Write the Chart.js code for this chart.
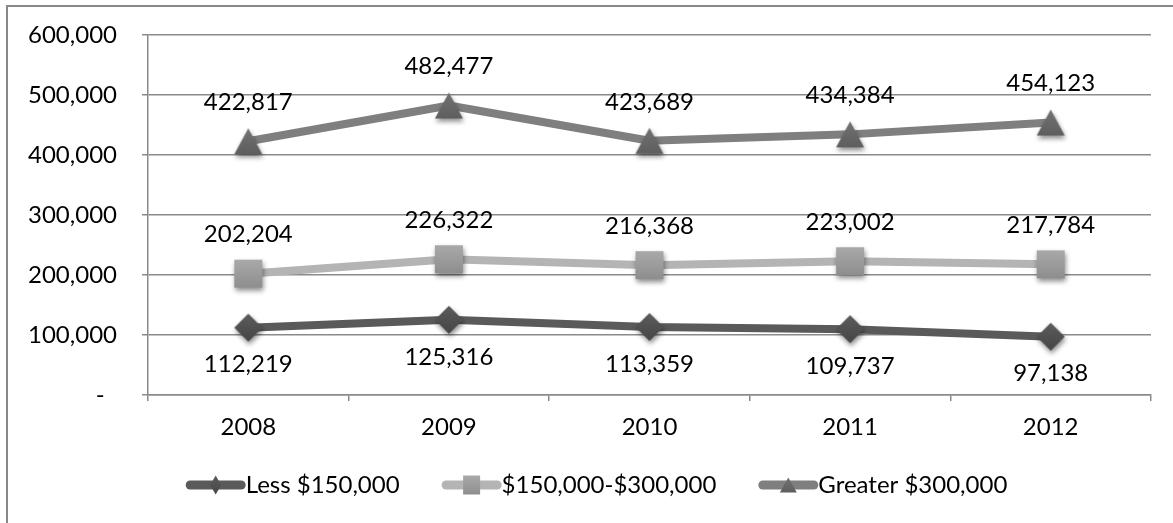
<!DOCTYPE html>
<html>
<head>
<meta charset="utf-8">
<script src="https://cdn.jsdelivr.net/npm/chart.js@4/dist/chart.umd.min.js"></script>
<style>
  html, body { margin: 0; padding: 0; background: #ffffff; }
  #wrap { position: relative; width: 1173px; height: 523px; }
</style>
</head>
<body>
<div id="wrap"><canvas id="chart" width="1173" height="523"></canvas></div>
<script>
// ---- data ----
const years = ['2008', '2009', '2010', '2011', '2012'];
const lessThan150k = [112219, 125316, 113359, 109737, 97138];
const from150kTo300k = [202204, 226322, 216368, 223002, 217784];
const greaterThan300k = [422817, 482477, 423689, 434384, 454123];
const seriesNames = ['Less $150,000', '$150,000-$300,000', 'Greater $300,000'];
const yAxisMin = 0;
const yAxisMax = 600000;
const yAxisStep = 100000;

// ---- styling ----
const FONT = 'Lato, "Open Sans", sans-serif';
const FONT_SIZE = 24;
const GRID = '#8a8a8a';

const styles = [
  { line: '#5a5a5a', shape: 'diamond', top: '#5c5c5c', bottom: '#454545', w: 28, h: 28, lw: 11, lh: 19, labelOffset: 37 },
  { line: '#b4b4b4', shape: 'square',  top: '#a9a9a9', bottom: '#8e8e8e', w: 28, h: 28, lw: 17, lh: 19, labelOffset: -39 },
  { line: '#7f7f7f', shape: 'triangle', top: '#727272', bottom: '#5e5e5e', w: 28, h: 26, lw: 17, lh: 15, labelOffset: -39 }
];

function shapePath(g, shape, cx, cy, w, h) {
  g.beginPath();
  if (shape === 'diamond') {
    g.moveTo(cx, cy - h / 2);
    g.lineTo(cx + w / 2, cy);
    g.lineTo(cx, cy + h / 2);
    g.lineTo(cx - w / 2, cy);
  } else if (shape === 'square') {
    g.rect(cx - w / 2, cy - h / 2, w, h);
  } else {
    g.moveTo(cx, cy - h / 2);
    g.lineTo(cx + w / 2, cy + h / 2);
    g.lineTo(cx - w / 2, cy + h / 2);
  }
  g.closePath();
}

function fillShape(g, st, cx, cy, w, h, withShadow) {
  shapePath(g, st.shape, cx, cy, w, h);
  const grad = g.createLinearGradient(0, cy - h / 2, 0, cy + h / 2);
  grad.addColorStop(0, st.top);
  grad.addColorStop(1, st.bottom);
  g.save();
  if (withShadow) {
    g.shadowColor = 'rgba(0,0,0,0.45)';
    g.shadowBlur = 5;
    g.shadowOffsetX = 1;
    g.shadowOffsetY = 3;
  }
  g.fillStyle = grad;
  g.fill();
  g.restore();
}

// marker bitmaps used as Chart.js point styles
function markerCanvas(st) {
  const pad = 10;
  const c = document.createElement('canvas');
  c.width = st.w + pad * 2;
  c.height = st.h + pad * 2;
  const g = c.getContext('2d');
  fillShape(g, st, c.width / 2, c.height / 2, st.w, st.h, true);
  return c;
}

const seriesValues = [lessThan150k, from150kTo300k, greaterThan300k];

const datasets = seriesValues.map((vals, i) => ({
  label: seriesNames[i],
  data: vals,
  borderColor: styles[i].line,
  backgroundColor: styles[i].line,
  borderWidth: 8,
  borderCapStyle: 'round',
  borderJoinStyle: 'round',
  tension: 0,
  pointStyle: markerCanvas(styles[i]),
  pointRadius: 14,
  pointHoverRadius: 14,
  clip: false
}));

// outer frame of the chart box
const framePlugin = {
  id: 'frame',
  beforeDraw(chart) {
    const ctx = chart.ctx;
    ctx.save();
    ctx.strokeStyle = '#888888';
    ctx.lineWidth = 2;
    ctx.beginPath();
    ctx.moveTo(7, chart.height);
    ctx.lineTo(7, 6);
    ctx.lineTo(chart.width, 6);
    ctx.stroke();
    ctx.restore();
  }
};

// value labels next to each point
const valueLabelPlugin = {
  id: 'valueLabels',
  afterDatasetsDraw(chart) {
    const ctx = chart.ctx;
    ctx.save();
    ctx.font = FONT_SIZE + 'px ' + FONT;
    ctx.fillStyle = '#000000';
    ctx.textAlign = 'center';
    ctx.textBaseline = 'middle';
    chart.data.datasets.forEach((ds, i) => {
      const meta = chart.getDatasetMeta(i);
      meta.data.forEach((pt, j) => {
        ctx.fillText(ds.data[j].toLocaleString('en-US'), pt.x, pt.y + styles[i].labelOffset);
      });
    });
    ctx.restore();
  }
};

// legend row: line sample with marker, then series name
const legendRowPlugin = {
  id: 'legendRow',
  afterDraw(chart) {
    const ctx = chart.ctx;
    const sampleW = 60, gap = 42, centerX = 596.5, y = 485;
    ctx.save();
    ctx.font = FONT_SIZE + 'px ' + FONT;
    const widths = chart.data.datasets.map(ds => ctx.measureText(ds.label).width);
    const total = widths.reduce((a, b) => a + b + sampleW, 0) + gap * (widths.length - 1);
    let x = centerX - total / 2;
    chart.data.datasets.forEach((ds, i) => {
      const st = styles[i];
      ctx.strokeStyle = st.line;
      ctx.lineWidth = 9;
      ctx.lineCap = 'round';
      ctx.beginPath();
      ctx.moveTo(x + 4.5, y);
      ctx.lineTo(x + sampleW - 4.5, y);
      ctx.stroke();
      fillShape(ctx, st, x + sampleW / 2, y, st.lw, st.lh, false);
      ctx.fillStyle = '#000000';
      ctx.textAlign = 'left';
      ctx.textBaseline = 'middle';
      ctx.fillText(ds.label, x + sampleW, y);
      x += sampleW + widths[i] + gap;
    });
    ctx.restore();
  }
};

new Chart(document.getElementById('chart'), {
  type: 'line',
  data: { labels: years, datasets: datasets },
  options: {
    responsive: false,
    animation: false,
    events: [],
    layout: { padding: { left: 0, top: 35, right: 20, bottom: 88 } },
    plugins: {
      legend: { display: false },
      title: { display: false },
      tooltip: { enabled: false }
    },
    scales: {
      x: {
        type: 'category',
        offset: true,
        grid: { drawOnChartArea: false, drawTicks: true, tickLength: 6, offset: true, color: GRID, lineWidth: 1.5 },
        border: { color: GRID, width: 1.5 },
        ticks: { color: '#000000', padding: 12, font: { family: FONT, size: FONT_SIZE }, maxRotation: 0 },
        afterFit(scale) { scale.height = 40; }
      },
      y: {
        min: yAxisMin,
        max: yAxisMax,
        grid: { color: GRID, lineWidth: 1.5, tickLength: 6, drawTicks: true },
        border: { color: GRID, width: 1.5 },
        ticks: {
          stepSize: yAxisStep,
          padding: 25,
          color: '#000000',
          font: { family: FONT, size: FONT_SIZE },
          callback: v => (v === 0 ? '-  ' : Number(v).toLocaleString('en-US'))
        },
        afterFit(scale) {
          scale.width = 148;
          // plot area edges come from the layout padding alone
          scale.paddingTop = 0;
          scale.paddingBottom = 0;
        }
      }
    }
  },
  plugins: [framePlugin, valueLabelPlugin, legendRowPlugin]
});
</script>
</body>
</html>
